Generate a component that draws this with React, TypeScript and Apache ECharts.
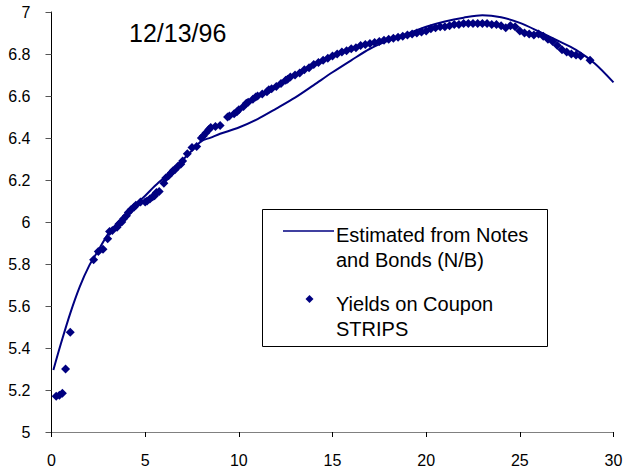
import React, { useEffect, useRef } from "react";
import * as echarts from "echarts";

const title = "12/13/96";
const lineName = "Estimated from Notes and Bonds (N/B)";
const dotName = "Yields on Coupon STRIPS";

// Estimated curve from notes and bonds (maturity in years, yield %)
const curveX = [0.1, 0.5, 1, 1.5, 2, 2.5, 3, 3.5, 4, 4.5, 5, 5.5, 6, 6.5, 7, 7.5, 8, 8.5, 9, 10, 11, 12, 13, 14, 15, 16, 17, 18, 19, 20, 21, 22, 23, 24, 25, 26, 27, 28, 29, 30];
const curveY = [5.295, 5.42, 5.565, 5.69, 5.79, 5.865, 5.94, 5.995, 6.04, 6.085, 6.125, 6.17, 6.21, 6.25, 6.295, 6.34, 6.385, 6.402, 6.42, 6.45, 6.49, 6.54, 6.592, 6.652, 6.713, 6.77, 6.825, 6.865, 6.897, 6.93, 6.955, 6.973, 6.985, 6.975, 6.948, 6.908, 6.865, 6.82, 6.755, 6.665];

// Yields on coupon STRIPS
const stripsX = [0.25, 0.42, 0.58, 0.75, 1.0, 2.25, 2.5, 2.75, 3.0, 3.1, 3.25, 3.5, 3.6, 3.75, 3.85, 4.0, 4.1, 4.25, 4.4, 4.5, 4.75, 5.0, 5.1, 5.25, 5.4, 5.5, 5.6, 5.75, 6.0, 6.1, 6.25, 6.4, 6.5, 6.6, 6.75, 6.9, 7.0, 7.25, 7.5, 7.75, 8.0, 8.1, 8.25, 8.4, 8.5, 8.75, 9.0, 9.4, 9.5, 9.75, 9.9, 10.0, 10.25, 10.4, 10.5, 10.75, 10.9, 11.0, 11.25, 11.5, 11.6, 11.75, 12.0, 12.25, 12.5, 12.6, 12.75, 13.0, 13.25, 13.5, 13.75, 14.0, 14.25, 14.5, 14.75, 15.0, 15.25, 15.5, 15.75, 16.0, 16.25, 16.5, 16.75, 17.0, 17.25, 17.5, 17.75, 18.0, 18.25, 18.5, 18.75, 19.0, 19.25, 19.5, 19.75, 20.0, 20.25, 20.5, 20.75, 21.0, 21.25, 21.5, 21.75, 22.0, 22.25, 22.5, 22.75, 23.0, 23.25, 23.5, 23.75, 24.0, 24.25, 24.5, 24.75, 25.0, 25.25, 25.5, 25.75, 26.0, 26.25, 26.5, 26.75, 27.0, 27.25, 27.5, 27.75, 28.0, 28.25, 28.75];
const stripsY = [5.17, 5.175, 5.185, 5.3, 5.475, 5.82, 5.86, 5.87, 5.92, 5.955, 5.96, 5.975, 5.99, 6.0, 6.015, 6.03, 6.045, 6.06, 6.07, 6.08, 6.095, 6.095, 6.1, 6.11, 6.12, 6.125, 6.14, 6.145, 6.185, 6.21, 6.22, 6.235, 6.245, 6.25, 6.265, 6.275, 6.29, 6.325, 6.355, 6.36, 6.4, 6.41, 6.425, 6.44, 6.45, 6.455, 6.46, 6.5, 6.505, 6.515, 6.525, 6.535, 6.55, 6.565, 6.57, 6.585, 6.595, 6.6, 6.61, 6.62, 6.63, 6.635, 6.645, 6.66, 6.675, 6.68, 6.69, 6.7, 6.71, 6.725, 6.735, 6.75, 6.76, 6.77, 6.78, 6.79, 6.8, 6.81, 6.815, 6.825, 6.83, 6.84, 6.845, 6.85, 6.855, 6.86, 6.865, 6.87, 6.875, 6.88, 6.885, 6.89, 6.895, 6.9, 6.905, 6.91, 6.92, 6.925, 6.93, 6.93, 6.935, 6.94, 6.94, 6.945, 6.945, 6.945, 6.945, 6.945, 6.945, 6.94, 6.94, 6.935, 6.925, 6.935, 6.93, 6.91, 6.9, 6.895, 6.89, 6.895, 6.885, 6.87, 6.86, 6.84, 6.82, 6.81, 6.8, 6.795, 6.79, 6.77];

const NAVY = "#000080";
const FONT = "Liberation Sans, Arial, sans-serif";

export default function App() {
  const ref = useRef<HTMLDivElement>(null);
  useEffect(() => {
    if (!ref.current) return;
    const chart = echarts.init(ref.current, null, { renderer: "svg" });
    const curve = curveX.map((x, i) => [x, curveY[i]]);
    const strips = stripsX.map((x, i) => [x, stripsY[i]]);
    chart.setOption({
      animation: false,
      backgroundColor: "#fff",
      textStyle: { fontFamily: FONT },
      grid: { left: 51.5, right: 15.5, top: 12, bottom: 42 },
      xAxis: {
        type: "value",
        min: 0,
        max: 30,
        interval: 5,
        splitLine: { show: false },
        axisLine: { show: true, onZero: false, lineStyle: { color: "#808080", width: 1 } },
        axisTick: { show: true, length: 5, lineStyle: { color: "#000" } },
        axisLabel: { color: "#000", fontSize: 16, fontFamily: FONT, margin: 20 },
      },
      yAxis: {
        type: "value",
        min: 5,
        max: 7,
        interval: 0.2,
        splitLine: { show: false },
        axisLine: { show: true, onZero: false, lineStyle: { color: "#000", width: 1 } },
        axisTick: { show: true, length: 6, lineStyle: { color: "#555" } },
        axisLabel: { color: "#000", fontSize: 16, fontFamily: FONT, margin: 21 },
      },
      series: [
        {
          name: lineName,
          type: "line",
          data: curve,
          smooth: 0.3,
          showSymbol: false,
          symbol: "none",
          lineStyle: { color: NAVY, width: 2 },
          z: 2,
        },
        {
          name: dotName,
          type: "scatter",
          data: strips,
          symbol: "diamond",
          symbolSize: 9,
          itemStyle: { color: NAVY, opacity: 1 },
          z: 3,
        },
      ],
      graphic: [
        {
          type: "text",
          left: 129,
          top: 20,
          style: { text: title, fontSize: 25, fontFamily: FONT, fill: "#000" },
        },
        {
          type: "rect",
          shape: { x: 262.5, y: 209.5, width: 285, height: 137 },
          style: { fill: "#fff", stroke: "#000", lineWidth: 1 },
          z: 10,
        },
        {
          type: "line",
          shape: { x1: 283, y1: 231, x2: 334, y2: 231 },
          style: { stroke: NAVY, lineWidth: 1.5 },
          z: 11,
        },
        {
          type: "text",
          x: 336,
          y: 222.5,
          style: {
            text: "Estimated from Notes\nand Bonds (N/B)",
            fontSize: 20,
            lineHeight: 25,
            fontFamily: FONT,
            fill: "#000",
            verticalAlign: "top",
          },
          z: 11,
        },
        {
          type: "polygon",
          shape: { points: [[309.5, 295], [313.5, 299], [309.5, 303], [305.5, 299]] },
          style: { fill: NAVY },
          z: 11,
        },
        {
          type: "text",
          x: 336,
          y: 291.5,
          style: {
            text: "Yields on Coupon\nSTRIPS",
            fontSize: 20,
            lineHeight: 25,
            fontFamily: FONT,
            fill: "#000",
            verticalAlign: "top",
          },
          z: 11,
        },
      ],
    });
    return () => chart.dispose();
  }, []);
  return (
    <div
      ref={ref}
      style={{ position: "fixed", left: 0, top: 0, width: 629, height: 474 }}
    />
  );
}
